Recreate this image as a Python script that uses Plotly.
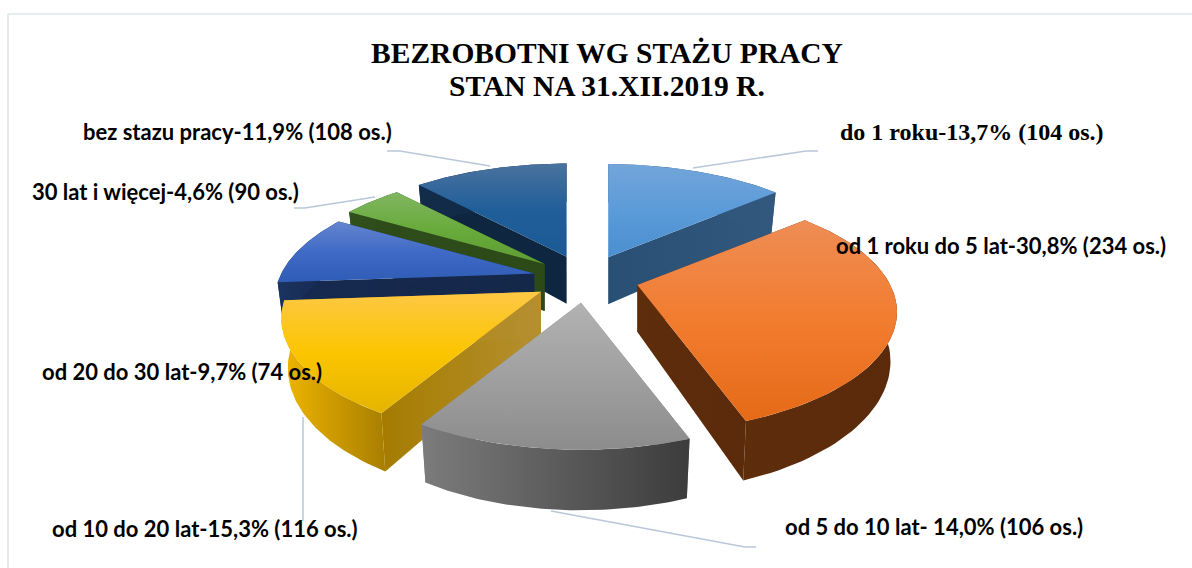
import math
import plotly.graph_objects as go

# ---- data ----
categories = ["do 1 roku", "od 1 roku do 5 lat", "od 5 do 10 lat", "od 10 do 20 lat",
              "od 20 do 30 lat", "30 lat i więcej", "bez stażu pracy"]
shares = [13.7, 30.8, 14.0, 15.3, 9.7, 4.6, 11.9]

label_texts = ["do 1 roku-13,7% (104 os.)", "od 1 roku do 5 lat-30,8% (234 os.)",
               "od 5 do 10 lat- 14,0% (106 os.)", "od 10 do 20 lat-15,3% (116 os.)",
               "od 20 do 30 lat-9,7% (74 os.)", "30 lat i więcej-4,6% (90 os.)",
               "bez stazu pracy-11,9% (108 os.)"]
title_lines = ["BEZROBOTNI WG STAŻU PRACY", "STAN NA 31.XII.2019 R."]

# ---- styling ----
label_pos = [(838, 132), (834, 245), (783, 526), (50, 528), (40, 371), (30, 191), (81, 131)]
label_font = ["Liberation Serif", "Lato", "Lato", "Lato", "Lato", "Lato", "Lato"]
label_size = [24, 22, 22, 22, 22, 22, 22]

top_colors = [["#4a8fd0", "#5b9bd9", "#73a5d9"], ["#e56a17", "#f27c2f", "#ee8d55"],
              ["#8c8c8c", "#a0a0a0", "#b2b2b2"], ["#e4b400", "#fcc500", "#fdc845"],
              ["#2f5cb5", "#3f6bc6", "#6585cf"], ["#5e9c32", "#69ab3c", "#80b662"],
              ["#1a5a94", "#205e9a", "#4a729e"]]
arc_colors = [["#2c5278", "#33587e"], ["#5e2d0c", "#5a2a0a"], ["#7c7c7c", "#3c3c3c"],
              ["#f0b600", "#a87e00"], ["#1b3360", "#14284f"], ["#30501c", "#2c4a18"],
              ["#122c4a", "#0e2640"]]
face_colors = [["#2a4f75", "#33587e"], ["#5e2d0c", "#5a2a0a"], ["#8a8a8a", "#8a8a8a"],
               ["#a57c00", "#b58f30"], ["#16294f", "#14284a"], ["#2e4d1a", "#2c4a18"],
               ["#0e2640", "#0e2640"]]
paint_order = [0, 6, 5, 4, 1, 3, 2]

leaders = [[(693, 168), (806, 151), (818, 151)],
           [(551, 511), (745, 547), (756, 547)],
           [(303, 417), (303, 521)],
           [(375, 197), (305, 208), (294, 208)],
           [(490, 166), (400, 151), (387, 151)]]

# ---- projection of the tilted pie ----
CX, CY, R, RY, K, PULL, DEPTH, SHRINK = 586, 279, 253, 114, 0.224, 0.21, 47, 0.025


def project(X, Y, off, low=False):
    s = 1 / (1 + K * Y)
    px = R * X * s
    py = -RY * Y * s
    if low:
        px *= 1 - SHRINK
        py += DEPTH * s
    return CX + R * off[0] + px, CY - RY * off[1] + py


def polygon(points, colors, kind):
    stops = [[i / (len(colors) - 1), c] for i, c in enumerate(colors)]
    xs = [p[0] for p in points] + [points[0][0]]
    ys = [p[1] for p in points] + [points[0][1]]
    return go.Scatter(x=xs, y=ys, mode="lines", line=dict(width=0), fill="toself",
                      fillgradient=dict(type=kind, colorscale=stops),
                      hoverinfo="skip", showlegend=False)


fig = go.Figure()

for path in leaders:
    fig.add_trace(go.Scatter(x=[p[0] for p in path], y=[p[1] for p in path], mode="lines",
                             line=dict(color="#bac7d9", width=1.5),
                             hoverinfo="skip", showlegend=False))

edges = [0.0]
for v in shares:
    edges.append(edges[-1] + v / sum(shares) * 360)

for i in paint_order:
    a0, a1 = math.radians(edges[i]), math.radians(edges[i + 1])
    mid = (a0 + a1) / 2
    off = (PULL * math.sin(mid), PULL * math.cos(mid))
    n = 60
    arc = [(math.sin(a0 + (a1 - a0) * t / n), math.cos(a0 + (a1 - a0) * t / n))
           for t in range(n + 1)]
    apex = (0.0, 0.0)
    for corner in (arc[0], arc[-1]):
        pts = [project(*apex, off), project(*corner, off),
               project(*corner, off, low=True), project(*apex, off, low=True)]
        fig.add_trace(polygon(pts, face_colors[i], "horizontal"))
    pts = [project(*p, off) for p in arc] + [project(*p, off, low=True) for p in reversed(arc)]
    fig.add_trace(polygon(pts, arc_colors[i], "horizontal"))
    pts = [project(*apex, off)] + [project(*p, off) for p in arc]
    fig.add_trace(polygon(pts, top_colors[i], "vertical"))

annotations = [dict(x=p[0], y=p[1], text="<b>%s</b>" % t, xref="x", yref="y", xanchor="left",
                    yanchor="middle", showarrow=False, font=dict(family=f, size=s, color="#000000"))
               for t, p, f, s in zip(label_texts, label_pos, label_font, label_size)]
annotations.append(dict(x=607, y=86, text="<b>%s</b>" % title_lines[1], xref="x", yref="y",
                        xanchor="center", yanchor="middle", showarrow=False,
                        font=dict(family="Liberation Serif", size=29.5, color="#000000")))

fig.update_layout(
    width=1192, height=568, margin=dict(l=0, r=0, t=0, b=0),
    paper_bgcolor="#ffffff", plot_bgcolor="#ffffff", showlegend=False,
    title=dict(text="<b>%s</b>" % title_lines[0],
               x=607 / 1192, xanchor="center", y=1 - 53 / 568, yanchor="middle",
               font=dict(family="Liberation Serif", size=29.5, color="#000000")),
    xaxis=dict(range=[0, 1192], visible=False, fixedrange=True),
    yaxis=dict(range=[568, 0], visible=False, fixedrange=True),
    annotations=annotations,
    shapes=[dict(type="line", x0=8, x1=8, y0=14, y1=568, line=dict(color="#e6ebf0", width=2)),
            dict(type="line", x0=8, x1=1192, y0=14, y1=14, line=dict(color="#e6ebf0", width=2))],
)
fig.write_html("out.html", config=dict(displayModeBar=False),
               post_script="document.body.style.margin='0';document.body.style.overflow='hidden';")
